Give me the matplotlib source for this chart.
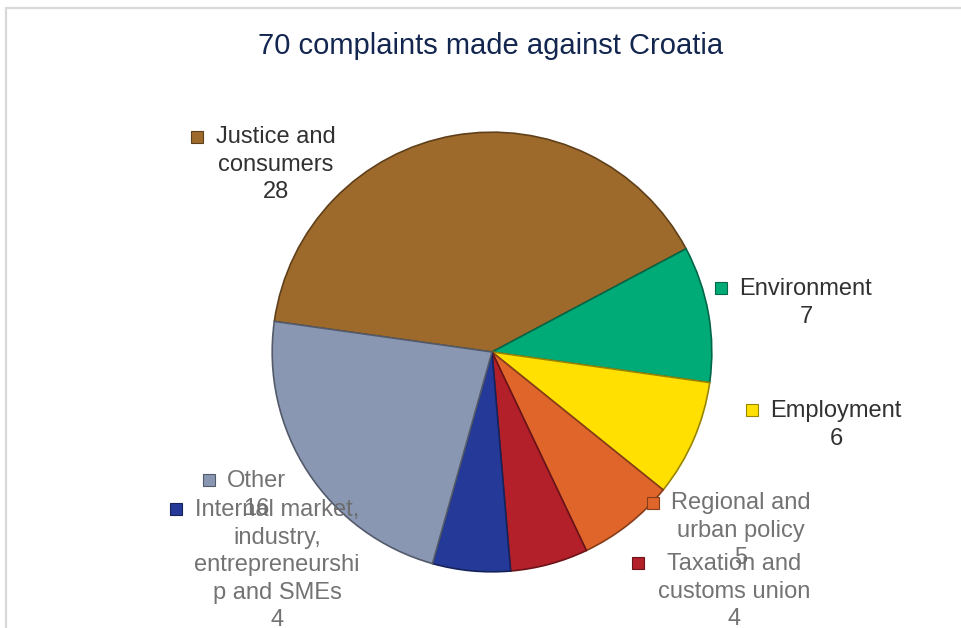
import matplotlib.pyplot as plt
import numpy as np
from matplotlib.patches import Rectangle
from matplotlib.colors import to_rgb

plt.rcParams['font.family'] = ['Liberation Sans', 'DejaVu Sans']

# Data
categories = ["Justice and\nconsumers", "Environment", "Employment",
              "Regional and\nurban policy", "Taxation and\ncustoms union",
              "Internal market,\nindustry,\nentrepreneurshi\np and SMEs", "Other"]
counts = [28, 7, 6, 5, 4, 4, 16]
colors = ["#9E6A2B", "#00AB78", "#FFE000", "#E0652A", "#B3202A", "#253A98", "#8A97B3"]

# label layout (pixel positions of the text block centre-top, key square)
label_xy = [(276, 137), (806, 289), (836, 411), (741, 503), (734, 564), (277, 510), (256, 481)]
key_xy = [(197, 137), (721, 288), (752, 410), (653, 503), (638, 563), (176, 509), (209, 480)]
label_col = ["#262626", "#262626", "#262626", "#6b6b6b", "#6b6b6b", "#6b6b6b", "#6b6b6b"]

W, H = 962, 628
fig = plt.figure(figsize=(W / 100, H / 100), dpi=100)

# outer frame
fig.patches.append(Rectangle((6 / W, -0.1), 1.2, 1 - 8 / H + 0.1, transform=fig.transFigure,
                             fill=False, edgecolor="#d9d9d9", linewidth=1.6))

fig.text(491 / W, 1 - 46 / H, "70 complaints made against Croatia", ha="center", va="center",
         fontsize=21, color="#13264f")

# pie
cx, cy, r = 492, 352, 222
ax = fig.add_axes([(cx - r) / W, (H - cy - r) / H, 2 * r / W, 2 * r / H])
edge = [tuple(np.array(to_rgb(c)) * 0.6) for c in colors]
wedges, _ = ax.pie(counts, colors=colors, startangle=172, counterclock=False, radius=1,
                   wedgeprops=dict(linewidth=1.2))
for w, e in zip(wedges, edge):
    w.set_edgecolor(e)
ax.set_xlim(-1.01, 1.01)
ax.set_ylim(-1.01, 1.01)
ax.set_aspect("equal")
ax.axis("off")

# data labels
for cat, n, c, (lx, ly), (kx, ky), tc in zip(categories, counts, colors, label_xy, key_xy, label_col):
    fig.text(lx / W, 1 - (ly - 11) / H, f"{cat}\n{n}", ha="center", va="top",
             fontsize=17, color=tc, linespacing=1.33, alpha=0.95)
    fig.patches.append(Rectangle(((kx - 6) / W, 1 - (ky + 6) / H), 12 / W, 12 / H,
                                 transform=fig.transFigure, facecolor=c,
                                 edgecolor=tuple(np.array(to_rgb(c)) * 0.6), linewidth=0.8))

fig.savefig("out.png", dpi=100)
